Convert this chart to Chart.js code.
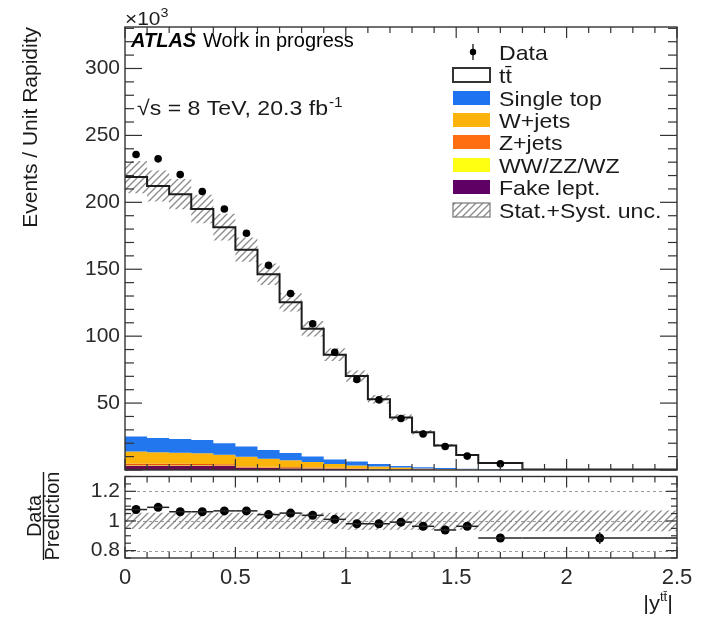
<!DOCTYPE html>
<html>
<head>
<meta charset="utf-8">
<script src="https://cdn.jsdelivr.net/npm/chart.js@4.4.1/dist/chart.umd.min.js"></script>
<style>
  html, body { margin: 0; padding: 0; background: #fff; }
  #marco { position: relative; width: 705px; height: 626px; overflow: hidden; background: #fff; }
  #c_main { position: absolute; left: 0; top: 0; }
  #c_ratio { position: absolute; left: 0; top: 472px; }
</style>
</head>
<body>
<div id="marco">
  <canvas id="c_main" width="705" height="474"></canvas>
  <canvas id="c_ratio" width="705" height="154"></canvas>
</div>
<script>
"use strict";
/* distribucion |y(ttbar)| - atlas 8 tev, panel principal + cociente */

// bordes de los bins en |y|
var binEdges = [0, 0.1, 0.2, 0.3, 0.4, 0.5, 0.6, 0.7, 0.8, 0.9, 1.0, 1.1, 1.2, 1.3, 1.4, 1.5, 1.6, 1.8, 2.5];

// prediccion total (x10^3)
var prediccion = [218.9, 212.2, 206.1, 195.0, 181.4, 164.6, 146.3, 125.3, 105.5, 86.2, 70.2, 52.9, 39.3, 28.2, 18.3, 11.3, 5.2, 0.4];
// datos (x10^3), el ultimo bin no se ve
var datos = [235.7, 232.5, 220.7, 208.1, 195.0, 176.9, 152.9, 131.9, 109.2, 88.0, 67.7, 52.4, 38.5, 26.9, 17.6, 10.4, 4.6, null];

// fondos apilados (x10^3)
var fakeLept = [3.2, 3.2, 3.2, 3.1, 3.0, 1.6, 1.5, 1.4, 1.2, 1.0, 0.8, 0.6, 0.4, 0.3, 0.2, 0.1, 0.05, 0];
var dibosones = [0.4, 0.4, 0.4, 0.4, 0.35, 0.3, 0.3, 0.25, 0.2, 0.2, 0.15, 0.1, 0.08, 0.05, 0.03, 0.02, 0.01, 0];
var zJets = [1.0, 1.0, 1.0, 0.9, 0.9, 0.8, 0.7, 0.6, 0.5, 0.4, 0.3, 0.25, 0.2, 0.15, 0.1, 0.05, 0.02, 0];
var wJets = [9.2, 8.7, 8.2, 8.2, 7.2, 7.2, 5.9, 5.0, 4.0, 2.8, 2.2, 1.6, 1.1, 0.7, 0.5, 0.3, 0.1, 0];
var singleTop = [11.2, 10.7, 10.4, 9.9, 8.6, 7.6, 6.6, 5.4, 4.2, 3.5, 2.9, 1.9, 1.2, 0.8, 0.7, 0.5, 0.3, 0];

// incertidumbre relativa stat+syst
var incRel = [0.055, 0.055, 0.055, 0.055, 0.055, 0.055, 0.055, 0.055, 0.055, 0.055, 0.06, 0.06, 0.06, 0.06, 0.06, 0.06, 0.07, 0.07];

// panel inferior: datos / prediccion
var cociente = [1.077, 1.092, 1.062, 1.062, 1.068, 1.068, 1.043, 1.053, 1.038, 1.011, 0.981, 0.981, 0.992, 0.964, 0.939, 0.964, 0.885, 0.885];
var cocienteErr = [0.004, 0.004, 0.004, 0.004, 0.004, 0.004, 0.004, 0.005, 0.005, 0.005, 0.006, 0.006, 0.007, 0.008, 0.009, 0.01, 0.012, 0.04];

// etiquetas de ejes
var ticksX = [0, 0.5, 1, 1.5, 2, 2.5];
var ticksYMain = [50, 100, 150, 200, 250, 300];
var ticksYRatio = [0.8, 1, 1.2];

var FUENTE = "'Liberation Sans', Arial, Helvetica, sans-serif";
var ESTIRAR = 1.1;

function escalones(valores) {
  return binEdges.map(function (x, i) {
    return { x: x, y: valores[Math.min(i, valores.length - 1)] };
  });
}
function sumar(a, b) {
  return a.map(function (v, i) { return v + b[i]; });
}
var centros = binEdges.slice(0, -1).map(function (e, i) { return (e + binEdges[i + 1]) / 2; });
function puntos(valores) {
  return centros.map(function (c, i) { return { x: c, y: valores[i] }; });
}

var acum1 = fakeLept;
var acum2 = sumar(acum1, dibosones);
var acum3 = sumar(acum2, zJets);
var acum4 = sumar(acum3, wJets);
var acum5 = sumar(acum4, singleTop);
var bandaArriba = prediccion.map(function (v, i) { return v * (1 + incRel[i]); });
var bandaAbajo = prediccion.map(function (v, i) { return v * (1 - incRel[i]); });
var ratioArriba = incRel.map(function (r) { return 1 + r; });
var ratioAbajo = incRel.map(function (r) { return 1 - r; });

function crearRayado() {
  var c = document.createElement("canvas");
  c.width = 7; c.height = 7;
  var g = c.getContext("2d");
  g.strokeStyle = "#8a8a8a";
  g.lineWidth = 1.3;
  g.beginPath();
  g.moveTo(0, 7); g.lineTo(7, 0);
  g.moveTo(-1, 1); g.lineTo(1, -1);
  g.moveTo(6, 8); g.lineTo(8, 6);
  g.stroke();
  return g.createPattern(c, "repeat");
}
var rayado = crearRayado();

function texto(ctx, s, x, y, fuente, alinear, k) {
  k = k || 1;
  ctx.save();
  ctx.font = fuente;
  ctx.textBaseline = "alphabetic";
  ctx.textAlign = "left";
  var w = ctx.measureText(s).width * k;
  var x0 = alinear === "right" ? x - w : (alinear === "center" ? x - w / 2 : x);
  ctx.translate(x0, y);
  ctx.scale(k, 1);
  ctx.fillText(s, 0, 0);
  ctx.restore();
  return w;
}

function linea(ctx, x1, y1, x2, y2) {
  ctx.beginPath();
  ctx.moveTo(x1, y1);
  ctx.lineTo(x2, y2);
  ctx.stroke();
}

// marco con ticks hacia adentro, estilo root
function dibujarMarco(chart, cfg) {
  var ctx = chart.ctx, a = chart.chartArea, sx = chart.scales.x, sy = chart.scales.y;
  var i, v, p, mayor, len;
  ctx.save();
  ctx.strokeStyle = "#333";
  ctx.lineWidth = 1.4;
  ctx.strokeRect(a.left, a.top, a.right - a.left, a.bottom - a.top);
  ctx.lineWidth = 1.2;
  for (i = 0; cfg.yMin + i * cfg.yPaso <= cfg.yMax + 1e-9; i++) {
    v = cfg.yMin + i * cfg.yPaso;
    p = sy.getPixelForValue(v);
    mayor = Math.abs(v / cfg.yMayor - Math.round(v / cfg.yMayor)) < 1e-6;
    len = mayor ? cfg.yLargo : cfg.yCorto;
    linea(ctx, a.left, p, a.left + len, p);
    linea(ctx, a.right, p, a.right - len, p);
  }
  for (i = 0; i * 0.1 <= 2.5 + 1e-9; i++) {
    v = i * 0.1;
    p = sx.getPixelForValue(v);
    mayor = i % 5 === 0;
    len = mayor ? cfg.xLargo : cfg.xCorto;
    if (cfg.arriba) { linea(ctx, p, a.top, p, a.top + len); }
    linea(ctx, p, a.bottom, p, a.bottom - len);
  }
  ctx.restore();
}

var marcoMain = {
  id: "marcoMain",
  afterDraw: function (chart) {
    dibujarMarco(chart, { yMin: 0, yMax: 330, yPaso: 10, yMayor: 50, yLargo: 17, yCorto: 9, xLargo: 11, xCorto: 6, arriba: true });
    var ctx = chart.ctx;
    ctx.save();
    ctx.fillStyle = "#1a1a1a";

    // x10^3
    var w = texto(ctx, "\u00d710", 125, 25, "19px " + FUENTE, "left", ESTIRAR);
    texto(ctx, "3", 125 + w, 17, "13px " + FUENTE, "left", ESTIRAR);

    // etiqueta atlas
    ctx.fillStyle = "#000";
    texto(ctx, "ATLAS", 131, 47, "bold italic 20px " + FUENTE, "left", 1);
    texto(ctx, "Work in progress", 203, 47, "20px " + FUENTE, "left", 1);
    ctx.fillStyle = "#1a1a1a";
    w = texto(ctx, "\u221as = 8 TeV, 20.3 fb", 137, 115, "21px " + FUENTE, "left", ESTIRAR);
    texto(ctx, "-1", 137 + w + 1, 107, "14px " + FUENTE, "left", ESTIRAR);

    // titulo eje y
    ctx.save();
    ctx.translate(31, 27);
    ctx.rotate(-Math.PI / 2);
    ctx.font = "21px " + FUENTE;
    ctx.textAlign = "right";
    ctx.textBaseline = "middle";
    ctx.fillText("Events / Unit Rapidity", 0, 0);
    ctx.restore();

    // leyenda
    var filas = [52, 75, 98, 120, 142, 165, 187, 210];
    var etiquetas = ["Data", "t\u0074\u0304", "Single top", "W+jets", "Z+jets", "WW/ZZ/WZ", "Fake lept.", "Stat.+Syst. unc."];
    var colores = [null, null, "#1e74f0", "#fdb40a", "#ff6e10", "#ffff12", "#5e0064", null];
    var bx = 453, bw = 37, bh = 14;
    filas.forEach(function (y, i) {
      if (i === 0) {
        ctx.strokeStyle = "#111";
        ctx.lineWidth = 1.3;
        linea(ctx, 473, y - 8, 473, y + 8);
        ctx.fillStyle = "#000";
        ctx.beginPath();
        ctx.arc(473, y, 3.2, 0, Math.PI * 2);
        ctx.fill();
      } else if (i === 1) {
        ctx.fillStyle = "#fff";
        ctx.fillRect(bx, y - bh / 2, bw, bh);
        ctx.strokeStyle = "#333";
        ctx.lineWidth = 2;
        ctx.strokeRect(bx, y - bh / 2, bw, bh);
      } else if (i === 7) {
        ctx.fillStyle = rayado;
        ctx.fillRect(bx, y - bh / 2, bw, bh);
        ctx.strokeStyle = "#777";
        ctx.lineWidth = 1.2;
        ctx.strokeRect(bx, y - bh / 2, bw, bh);
      } else {
        ctx.fillStyle = colores[i];
        ctx.fillRect(bx, y - bh / 2, bw, bh);
      }
      ctx.fillStyle = "#1a1a1a";
      texto(ctx, etiquetas[i], 499, y + 7.5, "21px " + FUENTE, "left", ESTIRAR);
    });
    ctx.restore();
  }
};

var marcoRatio = {
  id: "marcoRatio",
  beforeDatasetsDraw: function (chart) {
    var ctx = chart.ctx, a = chart.chartArea, sy = chart.scales.y;
    ctx.save();
    ctx.strokeStyle = "#9a9a9a";
    ctx.lineWidth = 1;
    ctx.setLineDash([3, 3]);
    ticksYRatio.forEach(function (v) {
      var p = Math.round(sy.getPixelForValue(v)) + 0.5;
      linea(ctx, a.left, p, a.right, p);
    });
    ctx.restore();
  },
  afterDatasetsDraw: function (chart) {
    var ctx = chart.ctx, sx = chart.scales.x, sy = chart.scales.y;
    ctx.save();
    ctx.strokeStyle = "#222";
    ctx.lineWidth = 1.5;
    cociente.forEach(function (v, i) {
      var py = sy.getPixelForValue(v);
      var px = sx.getPixelForValue(centros[i]);
      linea(ctx, sx.getPixelForValue(binEdges[i]), py, sx.getPixelForValue(binEdges[i + 1]), py);
      linea(ctx, px, sy.getPixelForValue(v - cocienteErr[i]), px, sy.getPixelForValue(v + cocienteErr[i]));
    });
    ctx.restore();
  },
  afterDraw: function (chart) {
    dibujarMarco(chart, { yMin: 0.75, yMax: 1.3, yPaso: 0.05, yMayor: 0.2, yLargo: 11, yCorto: 6, xLargo: 11, xCorto: 6, arriba: true });
    var ctx = chart.ctx;
    ctx.save();
    ctx.fillStyle = "#1a1a1a";

    // titulo Data / Prediction
    ctx.font = "20px " + FUENTE;
    ctx.textAlign = "center";
    ctx.textBaseline = "middle";
    ctx.save();
    ctx.translate(35, 44);
    ctx.rotate(-Math.PI / 2);
    ctx.fillText("Data", 0, 0);
    ctx.restore();
    ctx.save();
    ctx.translate(53, 44);
    ctx.rotate(-Math.PI / 2);
    ctx.fillText("Prediction", 0, 0);
    ctx.restore();
    ctx.strokeStyle = "#1a1a1a";
    ctx.lineWidth = 1.4;
    linea(ctx, 43.5, 0, 43.5, 88);

    // titulo eje x |y^tt|
    var f1 = "20px " + FUENTE, f2 = "12px " + FUENTE;
    ctx.font = f1;
    var wBarra = ctx.measureText("|").width * ESTIRAR;
    ctx.font = f2;
    var wSup = ctx.measureText("tt").width * ESTIRAR;
    var xFin = 673;
    var base = 138;
    texto(ctx, "|", xFin, base, f1, "right", ESTIRAR);
    texto(ctx, "t\u0074\u0304", xFin - wBarra, base - 9, f2, "right", ESTIRAR);
    texto(ctx, "|y", xFin - wBarra - wSup, base, f1, "right", ESTIRAR);
    ctx.restore();
  }
};

function ajustarY(ancho) {
  return function (s) {
    s.width = ancho;
    s.paddingTop = 0; s.paddingBottom = 0; s.paddingLeft = 0; s.paddingRight = 0;
  };
}
function fijarTicks(valores) {
  return function (s) {
    s.ticks = valores.map(function (v) { return { value: v }; });
  };
}
function etiqueta(v) { return String(v); }

// conjunto escalonado: el valor del bin se mantiene hasta el borde siguiente
function escalon(etiq, valores, color, relleno) {
  return {
    label: etiq, data: escalones(valores), stepped: "before",
    borderWidth: 0, borderColor: "rgba(0,0,0,0)", backgroundColor: color,
    pointRadius: 0, fill: relleno
  };
}

var chartMain = new Chart(document.getElementById("c_main"), {
  type: "line",
  data: {
    datasets: [
      { label: "Data", data: puntos(datos), showLine: false, pointRadius: 3.8, pointBackgroundColor: "#000", pointBorderWidth: 0, borderColor: "#000" },
      { label: "tt", data: escalones(prediccion), stepped: "before", borderColor: "#1c1c1c", borderWidth: 2, pointRadius: 0, fill: false },
      escalon("Single top", acum5, "#2277ee", "+1"),
      escalon("W+jets", acum4, "#fdb40a", "+1"),
      escalon("Z+jets", acum3, "#e8560e", "+1"),
      escalon("WW/ZZ/WZ", acum2, "#ffff12", "+1"),
      escalon("Fake lept.", acum1, "#6a0a50", "origin"),
      escalon("unc up", bandaArriba, rayado, "+1"),
      escalon("unc down", bandaAbajo, "rgba(0,0,0,0)", false)
    ]
  },
  options: {
    responsive: false,
    animation: false,
    devicePixelRatio: 1,
    layout: { padding: { left: 0, right: 28, top: 27, bottom: 1 } },
    plugins: { legend: { display: false }, tooltip: { enabled: false } },
    scales: {
      x: { type: "linear", min: 0, max: 2.5, display: false },
      y: {
        type: "linear", min: 0, max: 331,
        grid: { display: false, drawTicks: false }, border: { display: false },
        afterFit: ajustarY(125),
        afterBuildTicks: fijarTicks(ticksYMain),
        ticks: { color: "#2a2a2a", font: { family: FUENTE, size: 21 }, padding: 5, callback: etiqueta }
      }
    }
  },
  plugins: [marcoMain]
});

var chartRatio = new Chart(document.getElementById("c_ratio"), {
  type: "line",
  data: {
    datasets: [
      { label: "Data/Pred", data: puntos(cociente), showLine: false, pointRadius: 4.5, pointBackgroundColor: "#000", pointBorderWidth: 0, borderColor: "#000" },
      escalon("unc up", ratioArriba, rayado, "+1"),
      escalon("unc down", ratioAbajo, "rgba(0,0,0,0)", false)
    ]
  },
  options: {
    responsive: false,
    animation: false,
    devicePixelRatio: 1,
    layout: { padding: { left: 0, right: 28, top: 1, bottom: 0 } },
    plugins: { legend: { display: false }, tooltip: { enabled: false } },
    scales: {
      x: {
        type: "linear", min: 0, max: 2.5,
        grid: { display: false, drawTicks: false }, border: { display: false },
        afterFit: function (s) {
          s.height = 68;
          s.paddingTop = 0; s.paddingBottom = 0; s.paddingLeft = 0; s.paddingRight = 0;
        },
        afterBuildTicks: fijarTicks(ticksX),
        ticks: { color: "#2a2a2a", font: { family: FUENTE, size: 22 }, padding: 7, maxRotation: 0, autoSkip: false, callback: etiqueta }
      },
      y: {
        type: "linear", min: 0.75, max: 1.3,
        grid: { display: false, drawTicks: false }, border: { display: false },
        afterFit: ajustarY(125),
        afterBuildTicks: fijarTicks(ticksYRatio),
        ticks: { color: "#2a2a2a", font: { family: FUENTE, size: 21 }, padding: 5, callback: etiqueta }
      }
    }
  },
  plugins: [marcoRatio]
});
</script>
</body>
</html>
